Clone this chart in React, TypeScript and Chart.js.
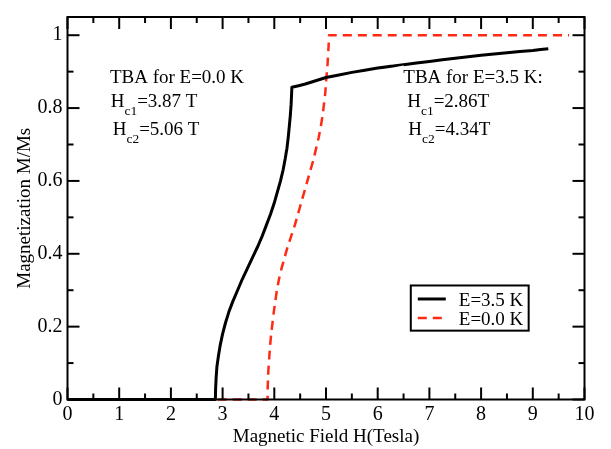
import React, { useEffect, useRef } from "react";
import { Chart, registerables } from "chart.js";

Chart.register(...registerables);

// ---------- data ----------
const xTickValues = [0, 1, 2, 3, 4, 5, 6, 7, 8, 9, 10];
const yTickValues = [0, 0.2, 0.4, 0.6, 0.8, 1];
const seriesLabels = ["E=3.5 K", "E=0.0 K"];

const fieldE35 = [
  0, 2.86, 2.865, 2.875, 2.89, 2.92, 2.955, 3.0, 3.055, 3.12, 3.2, 3.29, 3.38,
  3.48, 3.58, 3.68, 3.77, 3.85, 3.93, 4.0, 4.06, 4.12, 4.17, 4.21, 4.245, 4.27,
  4.29, 4.31, 4.325, 4.335, 4.34, 4.6, 5.0, 5.5, 6.0, 6.5, 7.0, 7.5, 8.0, 8.5,
  9.0, 9.3,
];
const magE35 = [
  0, 0, 0.03, 0.06, 0.09, 0.12, 0.15, 0.18, 0.21, 0.24, 0.27, 0.3, 0.33, 0.36,
  0.39, 0.42, 0.45, 0.48, 0.51, 0.54, 0.57, 0.6, 0.63, 0.66, 0.69, 0.72, 0.75,
  0.78, 0.81, 0.84, 0.857, 0.866, 0.884, 0.898, 0.91, 0.919, 0.928, 0.937,
  0.945, 0.952, 0.958, 0.963,
];

const fieldE00 = [
  0, 3.87, 3.872, 3.878, 3.89, 3.905, 3.92, 3.94, 3.965, 3.99, 4.02, 4.05,
  4.09, 4.14, 4.2, 4.26, 4.33, 4.4, 4.46, 4.52, 4.58, 4.64, 4.7, 4.76, 4.81,
  4.86, 4.9, 4.935, 4.96, 4.985, 5.0, 5.03, 5.05, 5.06, 9.7,
];
const magE00 = [
  0, 0, 0.03, 0.06, 0.09, 0.12, 0.15, 0.18, 0.21, 0.24, 0.27, 0.3, 0.33, 0.36,
  0.39, 0.42, 0.45, 0.48, 0.51, 0.54, 0.57, 0.6, 0.63, 0.66, 0.69, 0.72, 0.75,
  0.78, 0.81, 0.84, 0.87, 0.92, 0.97, 1.0, 1.0,
];

// annotation text blocks (anchored in data coordinates)
const annotations = [
  { x: 0.82, y: 0.87, parts: [{ t: "TBA for E=0.0 K" }] },
  { x: 0.835, y: 0.804, parts: [{ t: "H" }, { t: "c1", sub: true }, { t: "=3.87 T" }] },
  { x: 0.874, y: 0.725, parts: [{ t: "H" }, { t: "c2", sub: true }, { t: "=5.06 T" }] },
  { x: 6.495, y: 0.868, parts: [{ t: "TBA for E=3.5 K:" }] },
  { x: 6.57, y: 0.804, parts: [{ t: "H" }, { t: "c1", sub: true }, { t: "=2.86T" }] },
  { x: 6.59, y: 0.725, parts: [{ t: "H" }, { t: "c2", sub: true }, { t: "=4.34T" }] },
];

const FONT = '"Liberation Serif", "Times New Roman", serif';
const RED = "#ff2a14";

const decorPlugin = {
  id: "decor",
  afterDatasetsDraw(chart: any) {
    const { ctx, chartArea, scales } = chart;
    const { left, right, top, bottom } = chartArea;
    const xs = scales.x;
    const ys = scales.y;
    ctx.save();
    ctx.strokeStyle = "#000";
    ctx.lineWidth = 2;
    const seg = (x1: number, y1: number, x2: number, y2: number) => {
      ctx.beginPath();
      ctx.moveTo(x1, y1);
      ctx.lineTo(x2, y2);
      ctx.stroke();
    };
    // x ticks (major + minor), bottom and top, inward
    for (let i = 0; i < xTickValues.length; i++) {
      const v = xTickValues[i];
      const px = xs.getPixelForValue(v);
      seg(px, bottom, px, bottom - 12);
      seg(px, top, px, top + 12);
      if (i < xTickValues.length - 1) {
        const mv = (v + xTickValues[i + 1]) / 2;
        const mp = xs.getPixelForValue(mv);
        seg(mp, bottom, mp, bottom - 6);
        seg(mp, top, mp, top + 6);
      }
    }
    for (let i = 0; i < yTickValues.length; i++) {
      const v = yTickValues[i];
      const py = ys.getPixelForValue(v);
      seg(left, py, left + 12, py);
      seg(right, py, right - 12, py);
      if (i < yTickValues.length - 1) {
        const mv = (v + yTickValues[i + 1]) / 2;
        const mp = ys.getPixelForValue(mv);
        seg(left, mp, left + 6, mp);
        seg(right, mp, right - 6, mp);
      }
    }
    // frame
    ctx.strokeRect(left, top, right - left, bottom - top);

    // annotations
    ctx.fillStyle = "#000";
    ctx.textBaseline = "alphabetic";
    ctx.textAlign = "left";
    for (const a of annotations) {
      let px = xs.getPixelForValue(a.x);
      const py = ys.getPixelForValue(a.y);
      for (const p of a.parts as any[]) {
        if (p.sub) {
          ctx.font = `13.5px ${FONT}`;
          ctx.fillText(p.t, px, py + 8);
        } else {
          ctx.font = `19px ${FONT}`;
          ctx.fillText(p.t, px, py);
        }
        px += ctx.measureText(p.t).width;
      }
    }

    // legend box
    const lx1 = xs.getPixelForValue(6.64);
    const lx2 = xs.getPixelForValue(8.92);
    const ly1 = ys.getPixelForValue(0.313);
    const ly2 = ys.getPixelForValue(0.189);
    ctx.lineWidth = 2;
    ctx.strokeStyle = "#000";
    ctx.strokeRect(lx1, ly1, lx2 - lx1, ly2 - ly1);
    const dsets = chart.data.datasets;
    const rowY = [ly1 + 13.5, ly1 + 32.5];
    dsets.forEach((d: any, i: number) => {
      ctx.save();
      ctx.strokeStyle = d.borderColor;
      ctx.lineWidth = d.borderWidth;
      ctx.setLineDash(d.borderDash || []);
      ctx.beginPath();
      ctx.moveTo(lx1 + 7, rowY[i]);
      ctx.lineTo(lx1 + 35, rowY[i]);
      ctx.stroke();
      ctx.restore();
      ctx.font = `19px ${FONT}`;
      ctx.fillStyle = "#000";
      ctx.fillText(d.label, lx1 + 48, rowY[i] + 7);
    });
    ctx.restore();
  },
};

const fmt = (v: any) => `${+Number(v).toFixed(2)}`;

export default function App() {
  const ref = useRef<HTMLCanvasElement | null>(null);
  useEffect(() => {
    if (!ref.current) return;
    const chart = new Chart(ref.current, {
      type: "line",
      data: {
        datasets: [
          {
            label: seriesLabels[0],
            data: fieldE35.map((x, i) => ({ x, y: magE35[i] })),
            borderColor: "#000000",
            borderWidth: 3,
            borderJoinStyle: "round",
            pointRadius: 0,
            tension: 0.000001,
            fill: false,
            clip: 6,
          } as any,
          {
            label: seriesLabels[1],
            data: fieldE00.map((x, i) => ({ x, y: magE00[i] })),
            borderColor: RED,
            borderWidth: 2.5,
            borderDash: [9, 6],
            borderJoinStyle: "round",
            pointRadius: 0,
            tension: 0.000001,
            fill: false,
            clip: 6,
          } as any,
        ],
      },
      options: {
        animation: false,
        responsive: true,
        maintainAspectRatio: false,
        layout: { padding: { top: 2, right: 26.5, bottom: 0, left: 0 } },
        plugins: { legend: { display: false }, tooltip: { enabled: false } },
        scales: {
          x: {
            type: "linear",
            min: 0,
            max: 10,
            grid: { display: false, drawTicks: false },
            border: { display: false },
            ticks: {
              color: "#000",
              font: { family: FONT, size: 20 },
              padding: 3,
              maxRotation: 0,
              autoSkip: false,
              callback: fmt,
            },
            afterBuildTicks: (s: any) => {
              s.ticks = xTickValues.map((v) => ({ value: v }));
            },
            afterFit: (s: any) => {
              s.height = 49.5;
            },
            title: {
              display: true,
              text: "Magnetic Field H(Tesla)",
              color: "#000",
              font: { family: FONT, size: 19 },
              padding: { top: 0, bottom: 1 },
            },
          },
          y: {
            type: "linear",
            min: 0,
            max: 1.05,
            grid: { display: false, drawTicks: false },
            border: { display: false },
            ticks: {
              color: "#000",
              font: { family: FONT, size: 20 },
              padding: 5,
              autoSkip: false,
              callback: fmt,
            },
            afterBuildTicks: (s: any) => {
              s.ticks = yTickValues.map((v) => ({ value: v }));
            },
            afterFit: (s: any) => {
              s.width = 67.5;
            },
            title: {
              display: true,
              text: "Magnetization M/Ms",
              color: "#000",
              font: { family: FONT, size: 19 },
              padding: { top: 14, bottom: 0 },
            },
          },
        },
      },
      plugins: [decorPlugin],
    });
    return () => chart.destroy();
  }, []);
  return (
    <div
      style={{
        position: "fixed",
        left: 0,
        top: 0,
        width: 611,
        height: 449,
        background: "#fff",
      }}
    >
      <canvas ref={ref} style={{ display: "block" }} />
    </div>
  );
}
